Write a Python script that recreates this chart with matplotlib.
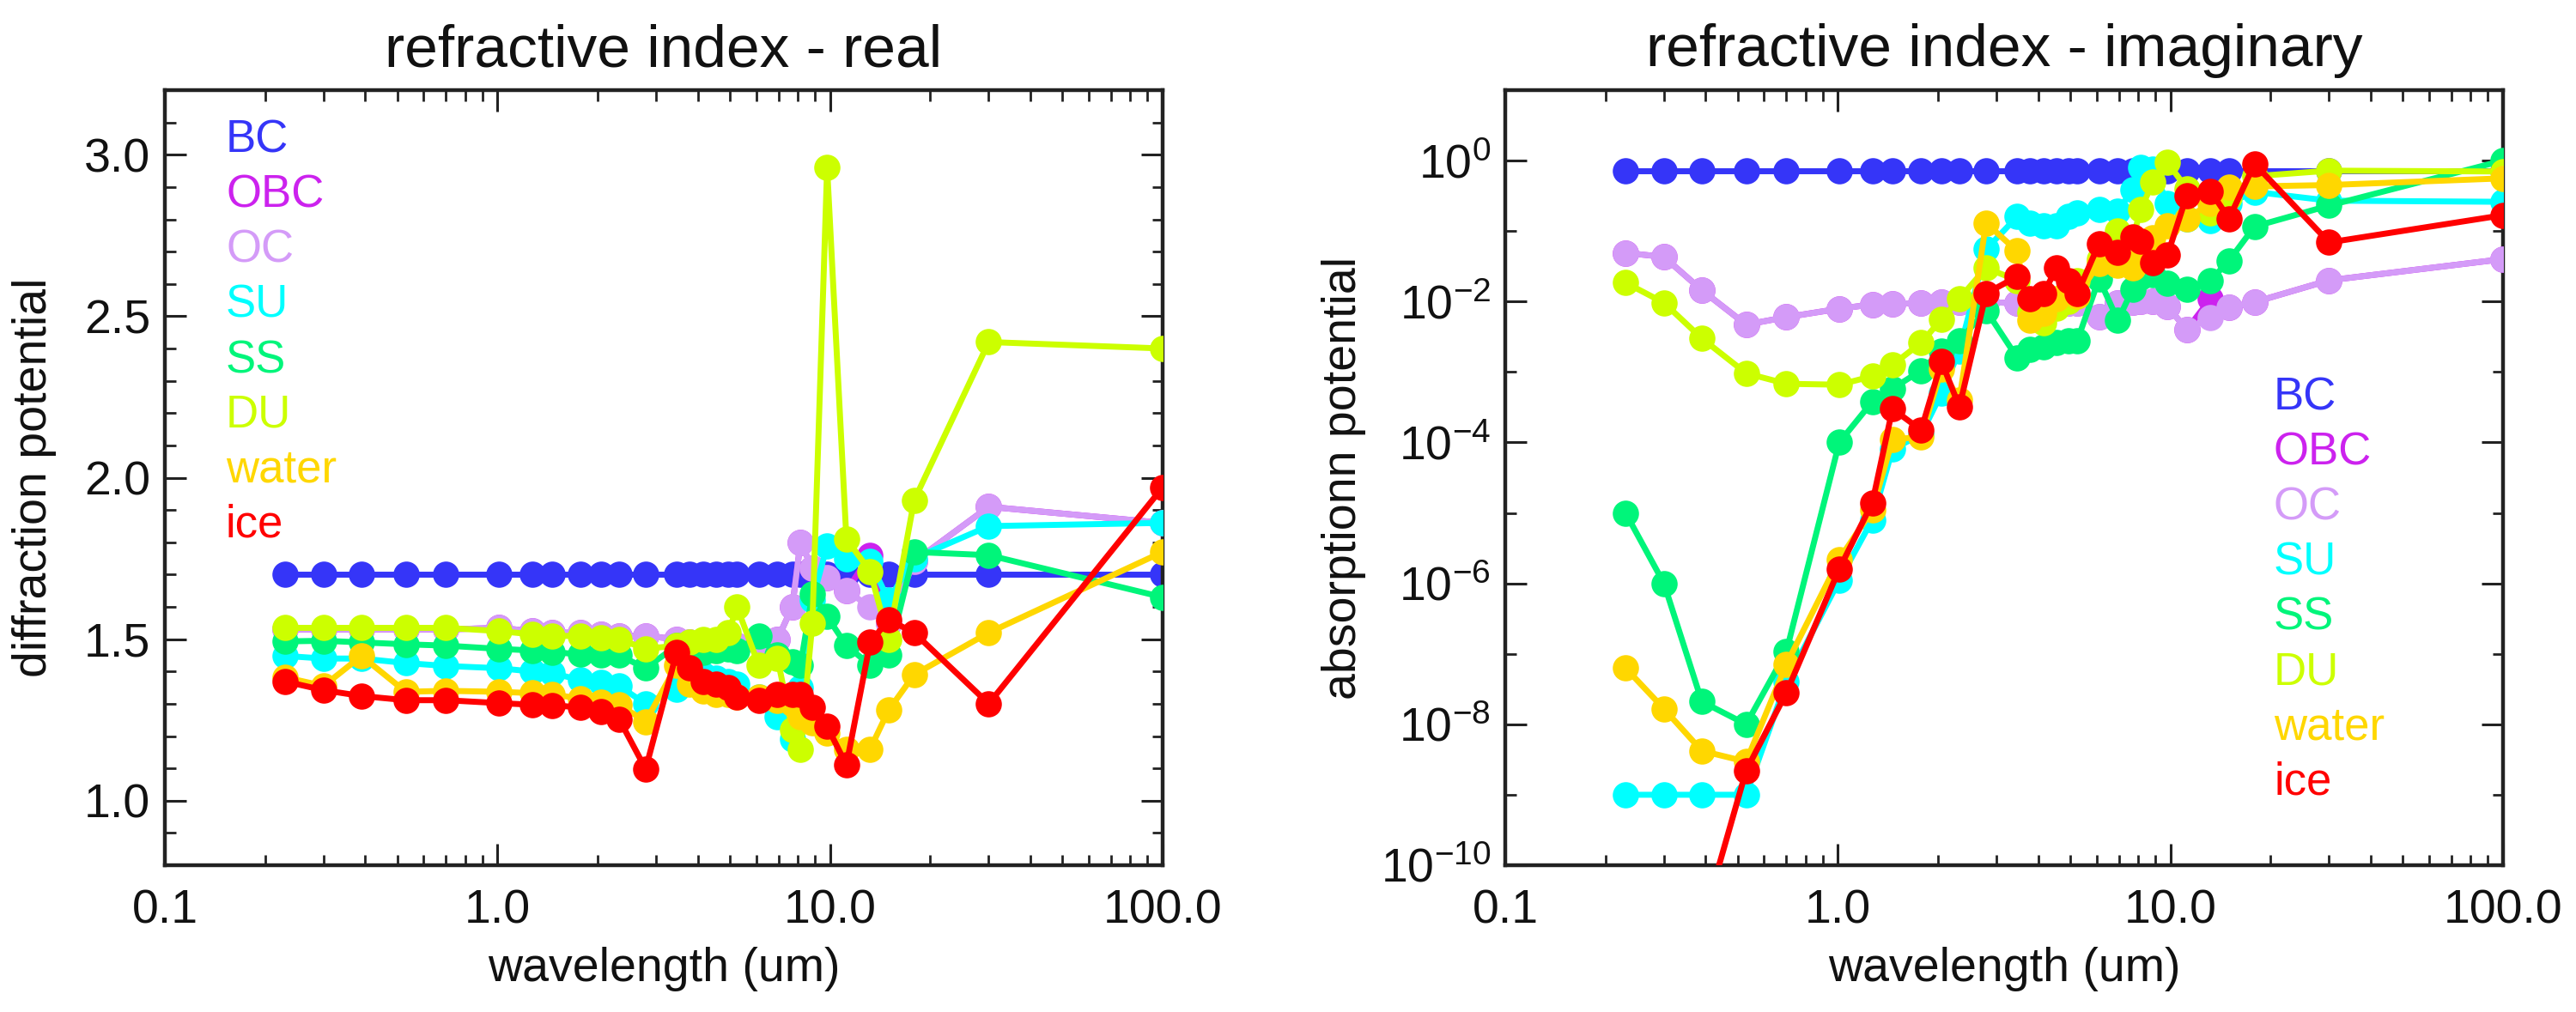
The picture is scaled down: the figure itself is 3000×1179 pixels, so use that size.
import numpy as np
import matplotlib
matplotlib.use("Agg")
import matplotlib.pyplot as plt
from matplotlib.ticker import FixedLocator, FixedFormatter, MultipleLocator, LogLocator, NullFormatter

plt.rcParams['font.family'] = ['Liberation Sans', 'DejaVu Sans']
plt.rcParams['mathtext.fontset'] = 'custom'
plt.rcParams['mathtext.rm'] = 'Liberation Sans'
plt.rcParams['mathtext.it'] = 'Liberation Sans:italic'
plt.rcParams['mathtext.bf'] = 'Liberation Sans:bold'

# ---------------- data ----------------
wavelength = [0.23, 0.30, 0.39, 0.53, 0.70, 1.01, 1.27, 1.46, 1.78, 2.05, 2.32, 2.79,
              3.46, 3.78, 4.15, 4.55, 4.95, 5.25, 6.1, 6.95, 7.7, 8.15, 8.85, 9.8,
              11.2, 13.2, 15.0, 17.9, 30.0, 100.0]

species = ['BC', 'OBC', 'OC', 'SU', 'SS', 'DU', 'water', 'ice']
colors = ['#3535F8', '#CC22EE', '#D49BF8', '#00FFFF', '#00F57A', '#CCFF00', '#FFD700', '#FF0000']

# real part (diffraction potential)
n_bc = [1.70, 1.70, 1.70, 1.70, 1.70, 1.70, 1.70, 1.70, 1.70, 1.70, 1.70, 1.70,
        1.70, 1.70, 1.70, 1.70, 1.70, 1.70, 1.70, 1.70, 1.70, 1.70, 1.70, 1.70,
        1.70, 1.70, 1.70, 1.70, 1.70, 1.70]
n_obc = [1.53, 1.53, 1.53, 1.53, 1.53, 1.535, 1.525, 1.52, 1.52, 1.515, 1.51, 1.51,
         1.50, 1.49, 1.49, 1.49, 1.485, 1.48, 1.49, 1.50, 1.60, 1.80, 1.72, 1.69,
         1.65, 1.76, 1.55, 1.74, 1.91, 1.86]
n_oc = [1.53, 1.53, 1.53, 1.53, 1.53, 1.535, 1.525, 1.52, 1.52, 1.515, 1.51, 1.51,
        1.50, 1.49, 1.49, 1.49, 1.485, 1.48, 1.49, 1.50, 1.60, 1.80, 1.72, 1.69,
        1.65, 1.60, 1.55, 1.74, 1.91, 1.86]
n_su = [1.448, 1.44, 1.44, 1.426, 1.417, 1.41, 1.40, 1.395, 1.373, 1.365, 1.355, 1.30,
        1.345, 1.39, 1.39, 1.38, 1.37, 1.36, 1.32, 1.26, 1.19, 1.35, 1.62, 1.79,
        1.75, 1.74, 1.62, 1.75, 1.85, 1.86]
n_ss = [1.493, 1.495, 1.49, 1.484, 1.48, 1.47, 1.465, 1.46, 1.453, 1.45, 1.45, 1.41,
        1.48, 1.46, 1.46, 1.465, 1.47, 1.465, 1.51, 1.45, 1.43, 1.42, 1.64, 1.57,
        1.48, 1.42, 1.45, 1.77, 1.76, 1.63]
n_du = [1.535, 1.535, 1.535, 1.535, 1.535, 1.525, 1.515, 1.51, 1.51, 1.505, 1.50, 1.47,
        1.48, 1.49, 1.50, 1.50, 1.52, 1.60, 1.42, 1.44, 1.22, 1.16, 1.55, 2.96,
        1.81, 1.71, 1.50, 1.93, 2.42, 2.40]
n_water = [1.382, 1.355, 1.448, 1.337, 1.34, 1.337, 1.333, 1.33, 1.315, 1.305, 1.297, 1.245,
           1.42, 1.36, 1.34, 1.33, 1.33, 1.32, 1.32, 1.31, 1.30, 1.26, 1.24, 1.21,
           1.16, 1.16, 1.28, 1.39, 1.52, 1.77]
n_ice = [1.369, 1.342, 1.324, 1.311, 1.311, 1.302, 1.297, 1.295, 1.289, 1.275, 1.253, 1.098,
         1.46, 1.41, 1.37, 1.36, 1.35, 1.32, 1.31, 1.33, 1.33, 1.33, 1.29, 1.23,
         1.11, 1.49, 1.56, 1.52, 1.30, 1.97]

# imaginary part (absorption potential)
k_bc = [0.72, 0.72, 0.72, 0.72, 0.72, 0.72, 0.72, 0.72, 0.72, 0.72, 0.72, 0.72,
        0.72, 0.72, 0.72, 0.72, 0.72, 0.72, 0.72, 0.72, 0.72, 0.72, 0.72, 0.72,
        0.72, 0.72, 0.72, 0.72, 0.72, 0.72]
k_obc = [0.049, 0.043, 0.0145, 0.0047, 0.006, 0.0079, 0.0091, 0.0093, 0.0095, 0.0097, 0.0098, 0.0098,
         0.0095, 0.0094, 0.0094, 0.0095, 0.0095, 0.0095, 0.006, 0.0095, 0.0098, 0.010, 0.010, 0.0085,
         0.0040, 0.011, 0.0082, 0.0098, 0.020, 0.040]
k_oc = [0.049, 0.043, 0.0145, 0.0047, 0.006, 0.0079, 0.0091, 0.0093, 0.0095, 0.0097, 0.0098, 0.0098,
        0.0095, 0.0094, 0.0094, 0.0095, 0.0095, 0.0095, 0.006, 0.0095, 0.0098, 0.010, 0.010, 0.0085,
        0.0040, 0.0059, 0.0082, 0.0098, 0.020, 0.040]
k_su = [1e-9, 1e-9, 1e-9, 1e-9, 4e-8, 1.1e-6, 8e-6, 8e-5, 1.3e-4, 5e-4, 2e-3, 0.055,
        0.16, 0.13, 0.12, 0.12, 0.16, 0.18, 0.20, 0.19, 0.39, 0.8, 0.75, 0.25,
        0.15, 0.14, 0.25, 0.36, 0.27, 0.26]
k_ss = [1e-5, 1e-6, 2.1e-8, 1e-8, 1.07e-7, 1e-4, 3.8e-4, 5.8e-4, 1.05e-3, 2e-3, 2.8e-3, 7.5e-3,
        1.6e-3, 2.1e-3, 2.3e-3, 2.6e-3, 2.8e-3, 2.8e-3, 2.1e-2, 5.4e-3, 1.5e-2, 2.2e-2, 2.4e-2, 1.8e-2,
        1.5e-2, 2.0e-2, 3.8e-2, 0.116, 0.23, 1.0]
k_du = [0.0185, 0.0096, 0.0030, 0.00096, 0.00068, 0.00066, 0.00087, 0.00126, 0.0026, 0.0056, 0.011, 0.03,
        0.02, 0.007, 0.005, 0.008, 0.010, 0.02, 0.04, 0.1, 0.08, 0.2, 0.5, 0.94,
        0.4, 0.18, 0.3, 0.6, 0.72, 0.70]
k_water = [6.3e-8, 1.66e-8, 4.2e-9, 2.95e-9, 7.1e-8, 2.2e-6, 1.1e-5, 1.1e-4, 1.2e-4, 1.1e-3, 4e-4, 0.13,
           0.052, 0.0054, 0.0068, 0.011, 0.015, 0.012, 0.035, 0.033, 0.03, 0.04, 0.08, 0.12,
           0.15, 0.25, 0.42, 0.43, 0.45, 0.56]
k_ice = [np.nan, np.nan, 1.4e-11, 2.2e-9, 2.8e-8, 1.6e-6, 1.4e-5, 3e-4, 1.5e-4, 1.4e-3, 3.2e-4, 0.013,
         0.0226, 0.011, 0.013, 0.030, 0.020, 0.013, 0.066, 0.050, 0.083, 0.072, 0.036, 0.046,
         0.32, 0.37, 0.15, 0.90, 0.069, 0.168]

real_parts = [n_bc, n_obc, n_oc, n_su, n_ss, n_du, n_water, n_ice]
imag_parts = [k_bc, k_obc, k_oc, k_su, k_ss, k_du, k_water, k_ice]

xtick_vals = [0.1, 1.0, 10.0, 100.0]
xtick_labels = ['0.1', '1.0', '10.0', '100.0']
ytick_real = [1.0, 1.5, 2.0, 2.5, 3.0]
ytick_imag_exp = [0, -2, -4, -6, -8, -10]
yminor_imag_exp = [-1, -3, -5, -7, -9]

# ---------------- figure ----------------
W, H = 3000, 1179
fig = plt.figure(figsize=(W / 100, H / 100), dpi=100)

def px_rect(l, t, r, b):
    return [l / W, 1 - b / H, (r - l) / W, (b - t) / H]

ax1 = fig.add_axes(px_rect(192, 105, 1354, 1008))
ax2 = fig.add_axes(px_rect(1753, 105, 2915, 1008))

LW = 5.0
MS = 22
TXT = '#111111'
TICK_FS = 40

for ax in (ax1, ax2):
    ax.set_xscale('log')
    ax.set_xlim(0.1, 100)
    ax.xaxis.set_major_locator(FixedLocator(xtick_vals))
    ax.xaxis.set_major_formatter(FixedFormatter(xtick_labels))
    ax.xaxis.set_minor_locator(LogLocator(base=10, subs=np.arange(2, 10)))
    ax.xaxis.set_minor_formatter(NullFormatter())
    ax.tick_params(which='both', direction='in', top=True, right=True,
                   color='#222222', labelcolor=TXT, labelsize=TICK_FS)
    ax.tick_params(which='major', length=18, width=2.2)
    ax.tick_params(which='minor', length=9, width=2.0)
    ax.tick_params(axis='x', which='major', pad=20)
    ax.tick_params(axis='y', which='major', pad=12)
    for s in ax.spines.values():
        s.set_linewidth(3.2)
        s.set_color('#222222')
    ax.set_xlabel('wavelength (um)', fontsize=40, color=TXT)
    ax.xaxis.label.set_va('baseline')
    ax.xaxis.set_label_coords(0.5, -(1143 - 1008) / 903)

# left: real part
for z, (vals, col) in enumerate(zip(real_parts, colors)):
    ax1.plot(wavelength, vals, color=col, lw=LW, marker='o', ms=MS,
             markeredgewidth=0, zorder=2 + z)
ax1.set_ylim(0.8, 3.2)
ax1.yaxis.set_major_locator(FixedLocator(ytick_real))
ax1.yaxis.set_major_formatter(FixedFormatter(['%.1f' % v for v in ytick_real]))
ax1.yaxis.set_minor_locator(MultipleLocator(0.1))
ax1.set_title('refractive index - real', fontsize=50, color=TXT, pad=20)
ax1.set_ylabel('diffraction potential', fontsize=40, color=TXT)
ax1.yaxis.label.set_va('center')
ax1.yaxis.set_label_coords((40 - 192) / 1162, 0.5)

# right: imaginary part
for z, (vals, col) in enumerate(zip(imag_parts, colors)):
    ax2.plot(wavelength, vals, color=col, lw=LW, marker='o', ms=MS,
             markeredgewidth=0, zorder=2 + z)
ax2.set_yscale('log')
ax2.set_ylim(1e-10, 10)
ax2.yaxis.set_major_locator(FixedLocator([10.0 ** e for e in ytick_imag_exp]))
ax2.yaxis.set_major_formatter(FixedFormatter([r'10$^{%d}$' % e for e in ytick_imag_exp]))
ax2.yaxis.set_minor_locator(FixedLocator([10.0 ** e for e in yminor_imag_exp]))
ax2.yaxis.set_minor_formatter(NullFormatter())
ax2.set_title('refractive index - imaginary', fontsize=50, color=TXT, pad=20)
ax2.set_ylabel('absorptionn potential', fontsize=40, color=TXT)
ax2.yaxis.label.set_va('center')
ax2.yaxis.set_label_coords((1565 - 1753) / 1162, 0.5)

# legends (coloured text lists)
LEG_FS = 38
for i, (name, col) in enumerate(zip(species, colors)):
    fig.text(263 / W, 1 - (178 + 64 * i) / H, name, color=col, fontsize=LEG_FS,
             va='baseline', ha='left')
    fig.text(2648 / W, 1 - (478 + 64 * i) / H, name, color=col, fontsize=LEG_FS,
             va='baseline', ha='left')

fig.savefig('out.png', dpi=100, facecolor='white')
